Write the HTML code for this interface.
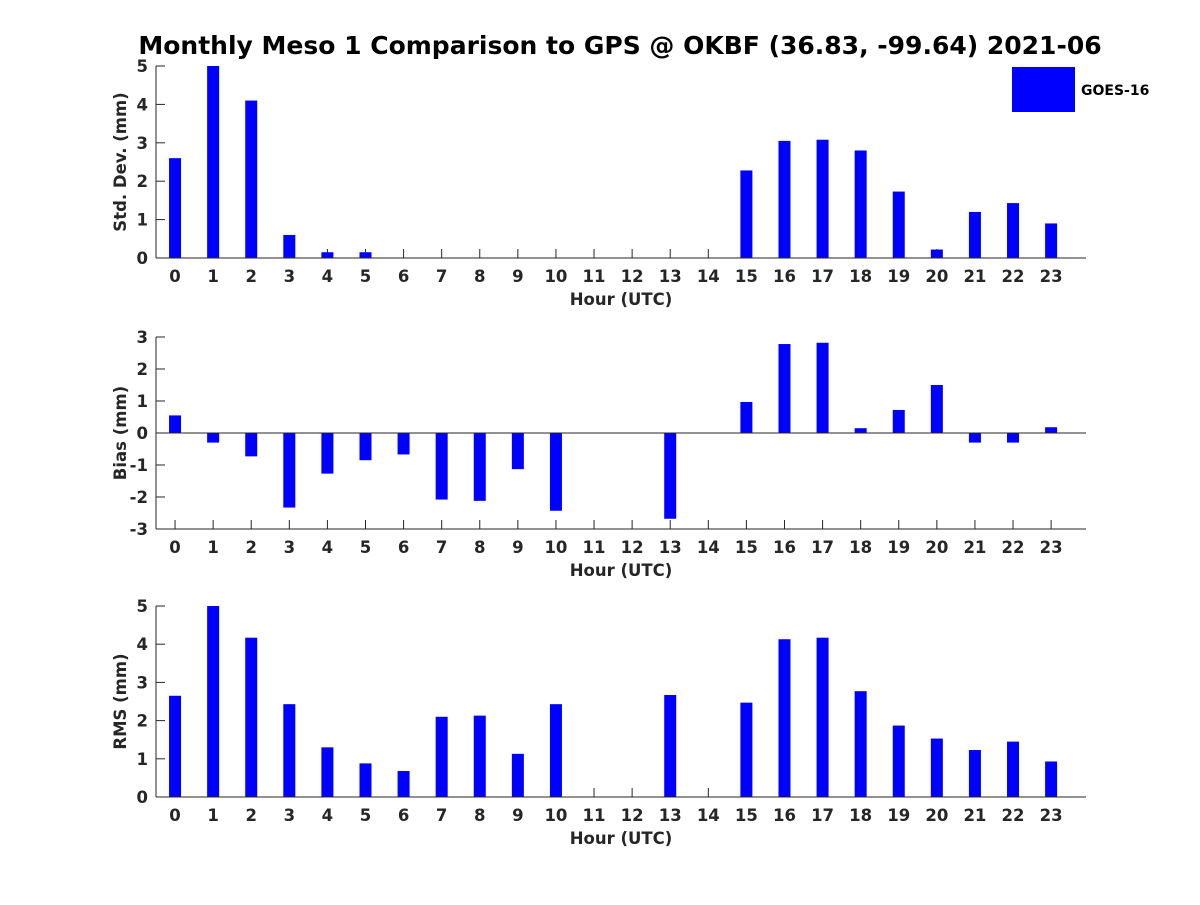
<!DOCTYPE html>
<html><head><meta charset="utf-8"><style>
body{margin:0;background:#fff}
svg text{font-family:"DejaVu Sans","Liberation Sans",sans-serif;font-weight:bold;fill:#262626}
</style></head><body>
<svg id="chart" width="1200" height="900" xmlns="http://www.w3.org/2000/svg">
<text x="620" y="54" text-anchor="middle" font-size="25" style="fill:#000">Monthly Meso 1 Comparison to GPS @ OKBF (36.83, -99.64) 2021-06</text>
<g>
<rect x="1012" y="67" width="63" height="45" fill="#0000ff"/>
<text x="1081" y="95" font-size="14" style="fill:#000">GOES-16</text>
</g>
</svg>
<script>
const hours = [0,1,2,3,4,5,6,7,8,9,10,11,12,13,14,15,16,17,18,19,20,21,22,23];
const stdValues = [2.6,5.0,4.1,0.6,0.15,0.15,0,0,0,0,0,0,0,0,0,2.28,3.05,3.08,2.8,1.73,0.22,1.2,1.43,0.9];
const biasValues = [0.55,-0.3,-0.73,-2.33,-1.27,-0.85,-0.67,-2.08,-2.12,-1.13,-2.43,0,0,-2.68,0,0.97,2.78,2.82,0.15,0.72,1.5,-0.3,-0.3,0.18];
const rmsValues = [2.65,5.0,4.17,2.43,1.3,0.88,0.68,2.1,2.13,1.13,2.43,0,0,2.67,0,2.47,4.13,4.17,2.77,1.87,1.53,1.23,1.45,0.93];
const stdTicks = [0,1,2,3,4,5];
const biasTicks = [-3,-2,-1,0,1,2,3];
const rmsTicks = [0,1,2,3,4,5];

const NS='http://www.w3.org/2000/svg';
const svg=document.getElementById('chart');
function mk(tag,attrs,parent){const e=document.createElementNS(NS,tag);for(const k in attrs)e.setAttribute(k,attrs[k]);(parent||svg).appendChild(e);return e;}
const X0=156,X1=1086;
function xs(h){return X0+(h+0.5)*38.09;}

function panel(name,vals,ticks,ymin,ymax,top,bot,ylabel){
  const g=mk('g',{});
  
  
  const ys=v=>bot-(v-ymin)/(ymax-ymin)*(bot-top);
  hours.forEach(h=>{
    const t=mk('line',{x1:xs(h),x2:xs(h),y1:bot,y2:bot-9,stroke:'#262626','stroke-width':1},g);
    
    
    const l=mk('text',{x:xs(h),y:bot+24,'text-anchor':'middle','font-size':16.5},g);
    l.textContent=h;
    
    
  });
  ticks.forEach(v=>{
    const t=mk('line',{x1:X0,x2:X0+9,y1:ys(v),y2:ys(v),stroke:'#262626','stroke-width':1},g);
    
    
    const l=mk('text',{x:X0-8,y:ys(v)+6,'text-anchor':'end','font-size':16.5},g);
    l.textContent=v;
    
    
  });
  const z=ys(Math.max(0,ymin));
  vals.forEach((v,i)=>{
    const y=ys(v);
    const r=mk('rect',{x:xs(hours[i])-6,y:Math.min(y,z),width:12,height:Math.abs(z-y),fill:'#0000ff'},g);
    
    
  });
  const ax=mk('line',{x1:X0,x2:X0,y1:top,y2:bot,stroke:'#262626','stroke-width':1},g);
  
  
  const bx=mk('line',{x1:X0,x2:X1,y1:bot,y2:bot,stroke:'#262626','stroke-width':1},g);
  
  
  if(ymin<0){
    const zl=mk('line',{x1:X0,x2:X1,y1:z,y2:z,stroke:'#262626','stroke-width':1},g);
    
    
  }
  const xt=mk('text',{x:(X0+X1)/2,y:bot+47,'text-anchor':'middle','font-size':16.5},g);
  xt.textContent='Hour (UTC)';
  
  
  const cy=(top+bot)/2;
  const yt=mk('text',{x:126,y:cy,'text-anchor':'middle','font-size':16.5,transform:`rotate(-90 126 ${cy})`},g);
  yt.textContent=ylabel;
  
  
}
panel('std-dev',stdValues,stdTicks,0,5,66,258,'Std. Dev. (mm)');
panel('bias',biasValues,biasTicks,-3,3,337,529,'Bias (mm)');
panel('rms',rmsValues,rmsTicks,0,5,606,797,'RMS (mm)');
</script>
</body></html>
